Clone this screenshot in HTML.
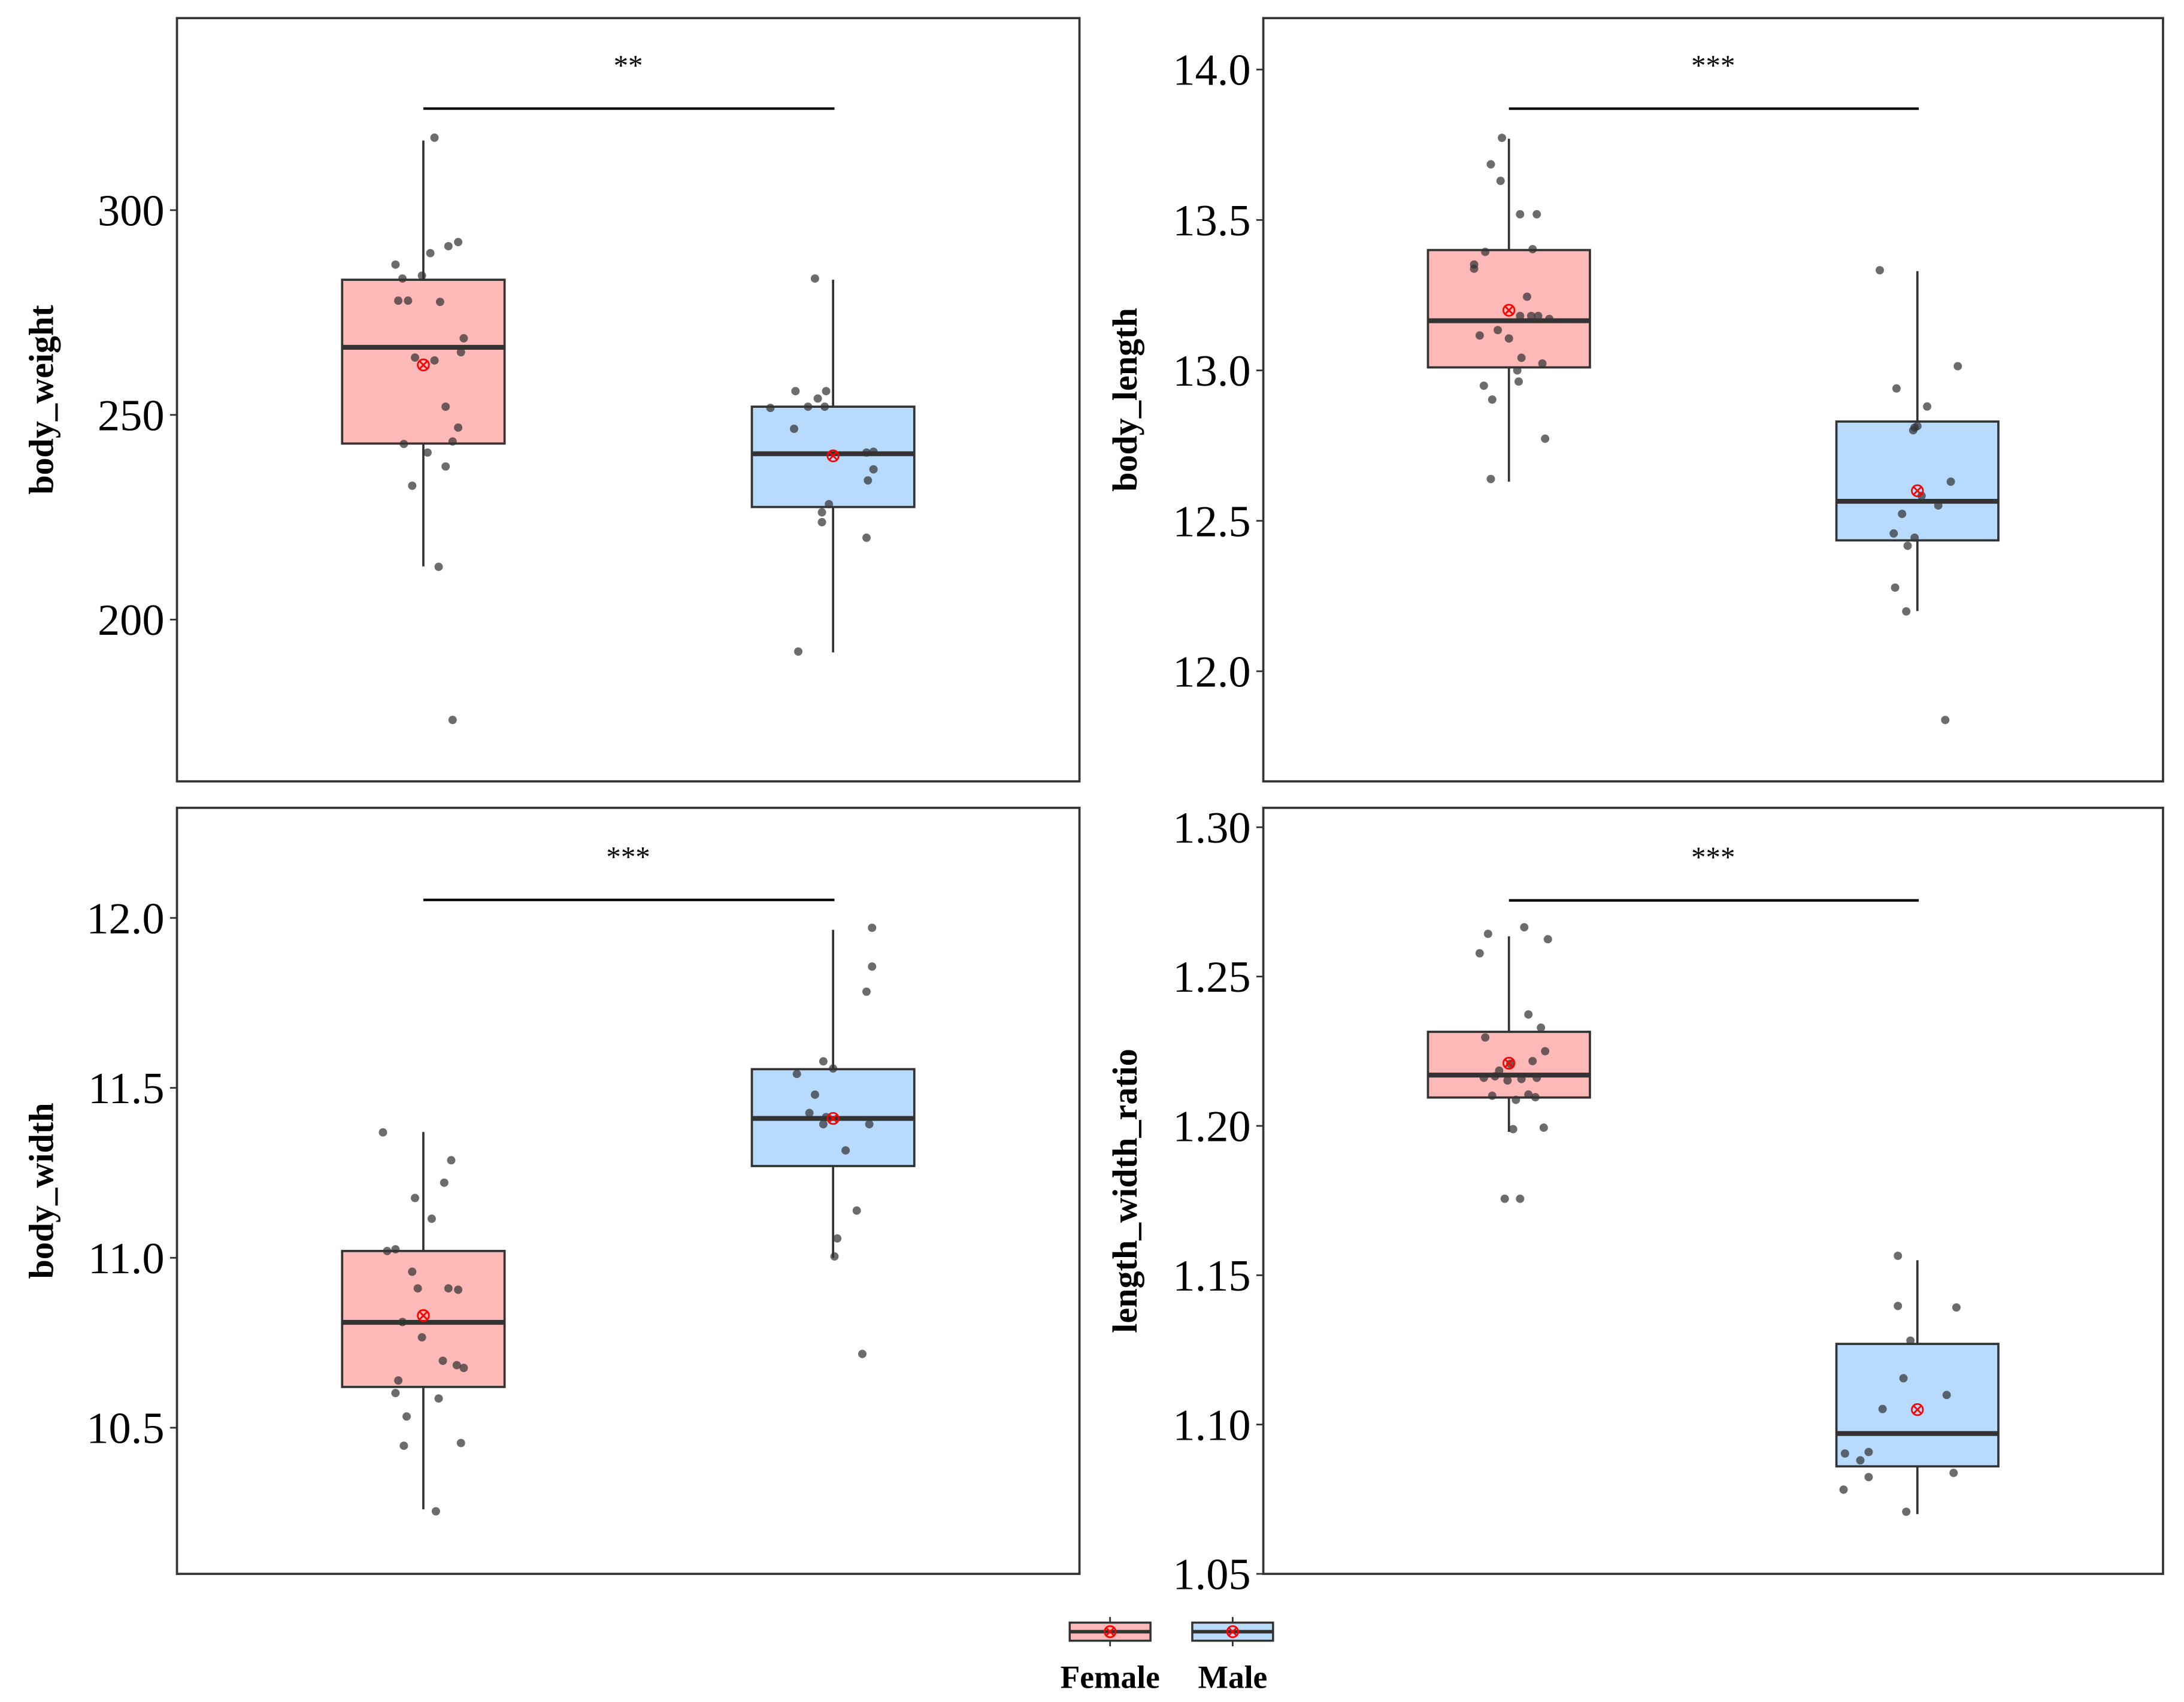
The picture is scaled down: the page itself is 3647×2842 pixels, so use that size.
<!DOCTYPE html>
<html><head><meta charset="utf-8"><style>
html,body{margin:0;padding:0;background:#fff;}
svg{display:block;}
text{font-family:"Liberation Serif",serif;}
</style></head><body>
<svg id="chart" width="3647" height="2842" viewBox="0 0 1568 1222" xmlns="http://www.w3.org/2000/svg"></svg>
<script>
// ---------- data ----------
const groups = ["Female", "Male"];
const panelTitles = ["body_weight", "body_length", "body_width", "length_width_ratio"];
const sigLabels = ["**", "***", "***", "***"];

const bwTicks = [200, 250, 300];
const blTicks = [12.0, 12.5, 13.0, 13.5, 14.0];
const bwiTicks = [10.5, 11.0, 11.5, 12.0];
const lwrTicks = [1.05, 1.10, 1.15, 1.20, 1.25, 1.30];
const bwTickLabels = ["200", "250", "300"];
const blTickLabels = ["12.0", "12.5", "13.0", "13.5", "14.0"];
const bwiTickLabels = ["10.5", "11.0", "11.5", "12.0"];
const lwrTickLabels = ["1.05", "1.10", "1.15", "1.20", "1.25", "1.30"];

// box stats: [lowerWhisker, Q1, median, Q3, upperWhisker, mean]
const bwFemaleStats = [213, 243, 266.5, 283, 317, 262.2];
const bwMaleStats = [192, 227.5, 240.5, 252, 283, 240];
const blFemaleStats = [12.63, 13.01, 13.165, 13.4, 13.77, 13.2];
const blMaleStats = [12.2, 12.435, 12.565, 12.83, 13.33, 12.6];
const bwiFemaleStats = [10.26, 10.62, 10.81, 11.02, 11.37, 10.83];
const bwiMaleStats = [11.0, 11.27, 11.41, 11.555, 11.965, 11.41];
const lwrFemaleStats = [1.198, 1.2095, 1.217, 1.2315, 1.2635, 1.221];
const lwrMaleStats = [1.07, 1.086, 1.097, 1.127, 1.155, 1.105];

// observations
const bwFemale = [317.7,292.2,291.2,289.5,286.7,283.3,284.0,277.9,277.9,277.6,268.7,265.3,264.0,263.3,252.0,246.9,242.9,243.5,240.8,237.4,232.7,212.9,175.5];
const bwFemaleJit = [8,25,18,5,-20,-15,-1,-18,-11,12,29,27,-6,8,16,25,-14,21,3,16,-8,11,21];
const bwMale = [283.3,255.8,255.8,254,252,252,251.7,246.6,240.8,241,236.7,234,228.2,226.2,223.8,220,192.2];
const bwMaleJit = [-13,-27,-5,-11,-18,-6,-45,-28,24,29,29,25,-3,-8,-8,24,-25];

const blFemale = [13.773,13.685,13.630,13.519,13.519,13.403,13.394,13.352,13.338,13.245,13.181,13.171,13.181,13.181,13.134,13.116,13.106,13.042,13.023,13.0,12.949,12.963,12.903,12.773,12.639];
const blFemaleJit = [-5,-13,-6,20,8,17,-17,-25,-25,13,21,29,16,8,-8,-21,0,9,24,6,-18,7,-12,26,-13];
const blMale = [13.333,13.014,12.940,12.880,12.815,12.810,12.801,12.630,12.583,12.551,12.523,12.458,12.444,12.417,12.278,12.199,11.838];
const blMaleJit = [-27,29,-15,7,0,-2,-3,24,3,15,-11,-17,-2,-7,-16,-8,20];

const bwiFemale = [11.369,11.287,11.221,11.176,11.115,11.025,11.020,10.959,10.910,10.910,10.906,10.811,10.766,10.697,10.684,10.676,10.639,10.602,10.586,10.533,10.455,10.447,10.254];
const bwiFemaleJit = [-29,20,15,-6,6,-20,-26,-8,-4,18,25,-15,-1,14,24,29,-18,-20,11,-12,27,-14,9];
const bwiMale = [11.971,11.857,11.783,11.578,11.557,11.541,11.480,11.426,11.414,11.393,11.393,11.316,11.139,11.057,11.004,10.717];
const bwiMaleJit = [28,28,24,-7,0,-26,-13,-17,-5,-7,26,9,17,3,1,21];

const lwrFemale = [1.2665,1.2643,1.2625,1.2578,1.2373,1.2329,1.2296,1.2250,1.2217,1.2208,1.2185,1.2166,1.2161,1.2157,1.2161,1.2152,1.2105,1.2101,1.2087,1.2096,1.1989,1.1994,1.1756,1.1756];
const lwrFemaleJit = [11,-15,28,-21,14,23,-17,26,17,1,-7,-10,-18,9,20,-1,14,-12,5,19,3,25,-3,8];
const lwrMale = [1.1565,1.1397,1.1392,1.1281,1.1155,1.1052,1.1099,1.0903,1.0880,1.0908,1.0824,1.0838,1.0782,1.0708];
const lwrMaleJit = [-14,-14,28,-5,-10,-25,21,-52,-41,-35,-35,26,-53,-8];

// y domains (value at panel top / bottom)
const bwDomain = [346.9, 160.5];
const blDomain = [14.171, 11.634];
const bwiDomain = [12.324, 10.070];
const lwrDomain = [1.3065, 1.05];
const sigValues = [324.8, 13.870, 12.053, 1.2755];

// ---------- layout ----------
const NS = "http://www.w3.org/2000/svg";
const svg = document.getElementById("chart");
function mk(tag, attrs, parent) {
  const e = document.createElementNS(NS, tag);
  for (const k in attrs) e.setAttribute(k, attrs[k]);
  (parent || svg).appendChild(e);
  return e;
}
const FEM_FILL = "#FDB8B8", MALE_FILL = "#B8DAFD", EDGE = "#333333";

const panels = [
  {x0:127,x1:775,y0:13,y1:561,domain:bwDomain,ticks:bwTicks,labels:bwTickLabels,stats:[bwFemaleStats,bwMaleStats],pts:[bwFemale,bwMale],jit:[bwFemaleJit,bwMaleJit],titleX:30},
  {x0:907,x1:1553,y0:13,y1:561,domain:blDomain,ticks:blTicks,labels:blTickLabels,stats:[blFemaleStats,blMaleStats],pts:[blFemale,blMale],jit:[blFemaleJit,blMaleJit],titleX:808},
  {x0:127,x1:775,y0:580,y1:1130,domain:bwiDomain,ticks:bwiTicks,labels:bwiTickLabels,stats:[bwiFemaleStats,bwiMaleStats],pts:[bwiFemale,bwiMale],jit:[bwiFemaleJit,bwiMaleJit],titleX:30},
  {x0:907,x1:1553,y0:580,y1:1130,domain:lwrDomain,ticks:lwrTicks,labels:lwrTickLabels,stats:[lwrFemaleStats,lwrMaleStats],pts:[lwrFemale,lwrMale],jit:[lwrFemaleJit,lwrMaleJit],titleX:808}
];

panels.forEach((p, pi) => {
  const g = mk("g", {});
  
  
  const y = v => p.y0 + (p.domain[0] - v) / (p.domain[0] - p.domain[1]) * (p.y1 - p.y0);
  const w = p.x1 - p.x0;
  const xc = i => p.x0 + w * (i === 0 ? 0.273 : 0.727);
  const bw = w * 0.18;

  p.ticks.forEach((t, ti) => {
    const ty = y(t);
    const tk = mk("line", {x1:p.x0-5,x2:p.x0,y1:ty,y2:ty,stroke:EDGE,"stroke-width":1.2}, g);
    
    
    const tl = mk("text", {x:p.x0-9,y:ty+11,"text-anchor":"end","font-size":32,fill:"#000"}, g);
    tl.textContent = p.labels[ti];
    
    
  });
  const cy = (p.y0 + p.y1) / 2;
  const yt = mk("text", {x:p.titleX,y:cy,"text-anchor":"middle","font-size":25,"font-weight":"bold",transform:`rotate(-90 ${p.titleX} ${cy})`,dy:8}, g);
  yt.textContent = panelTitles[pi];
  
  

  [0, 1].forEach(gi => {
    const s = p.stats[gi], cx = xc(gi);
    const wl = mk("line", {x1:cx,x2:cx,y1:y(s[0]),y2:y(s[1]),stroke:EDGE,"stroke-width":1.6}, g);
    
    
    const wu = mk("line", {x1:cx,x2:cx,y1:y(s[3]),y2:y(s[4]),stroke:EDGE,"stroke-width":1.6}, g);
    
    
    const r = mk("rect", {x:cx-bw/2,y:y(s[3]),width:bw,height:y(s[1])-y(s[3]),fill:gi?MALE_FILL:FEM_FILL,stroke:EDGE,"stroke-width":1.6}, g);
    
    
    const m = mk("line", {x1:cx-bw/2,x2:cx+bw/2,y1:y(s[2]),y2:y(s[2]),stroke:EDGE,"stroke-width":3.5}, g);
    
    
  });
  [0, 1].forEach(gi => {
    p.pts[gi].forEach((v, k) => {
      const c = mk("circle", {cx:xc(gi)+p.jit[gi][k],cy:y(v),r:3,fill:"#333","fill-opacity":0.72}, g);
      
      
    });
  });
  [0, 1].forEach(gi => {
    const cx = xc(gi), my = y(p.stats[gi][5]);
    const mg = mk("g", {stroke:"#ff0000","stroke-width":1.2,fill:"none"}, g);
    
    
    mk("circle", {cx:cx,cy:my,r:4}, mg);
    mk("line", {x1:cx-3,y1:my-3,x2:cx+3,y2:my+3}, mg);
    mk("line", {x1:cx-3,y1:my+3,x2:cx+3,y2:my-3}, mg);
  });
  const sy = y(sigValues[pi]);
  const sl = mk("line", {x1:xc(0),x2:xc(1)+1,y1:sy,y2:sy,stroke:"#000","stroke-width":1.8}, g);
  
  
  const st = mk("text", {x:(xc(0)+xc(1))/2,y:sy-24,"text-anchor":"middle","font-size":21,fill:"#000"}, g);
  st.textContent = sigLabels[pi];
  
  
  const fr = mk("rect", {x:p.x0,y:p.y0,width:w,height:p.y1-p.y0,fill:"none",stroke:EDGE,"stroke-width":1.6}, g);
  
  
});

const lg = mk("g", {});


[0, 1].forEach(gi => {
  const cx = gi ? 885 : 797;
  const e = mk("g", {}, lg);
  
  
  mk("line", {x1:cx,x2:cx,y1:1161,y2:1182,stroke:EDGE,"stroke-width":1.2}, e);
  mk("rect", {x:cx-29,y:1165,width:58,height:13,fill:gi?MALE_FILL:FEM_FILL,stroke:EDGE,"stroke-width":1.5}, e);
  mk("line", {x1:cx-29,x2:cx+29,y1:1171.5,y2:1171.5,stroke:EDGE,"stroke-width":2.5}, e);
  mk("circle", {cx:cx,cy:1171.5,r:4,fill:"none",stroke:"#f00","stroke-width":1.2}, e);
  mk("line", {x1:cx-3,y1:1168.5,x2:cx+3,y2:1174.5,stroke:"#f00","stroke-width":1.2}, e);
  mk("line", {x1:cx-3,y1:1174.5,x2:cx+3,y2:1168.5,stroke:"#f00","stroke-width":1.2}, e);
  const t = mk("text", {x:cx,y:1212,"text-anchor":"middle","font-size":23,"font-weight":"bold"}, e);
  t.textContent = groups[gi];
});
</script>
</body></html>
